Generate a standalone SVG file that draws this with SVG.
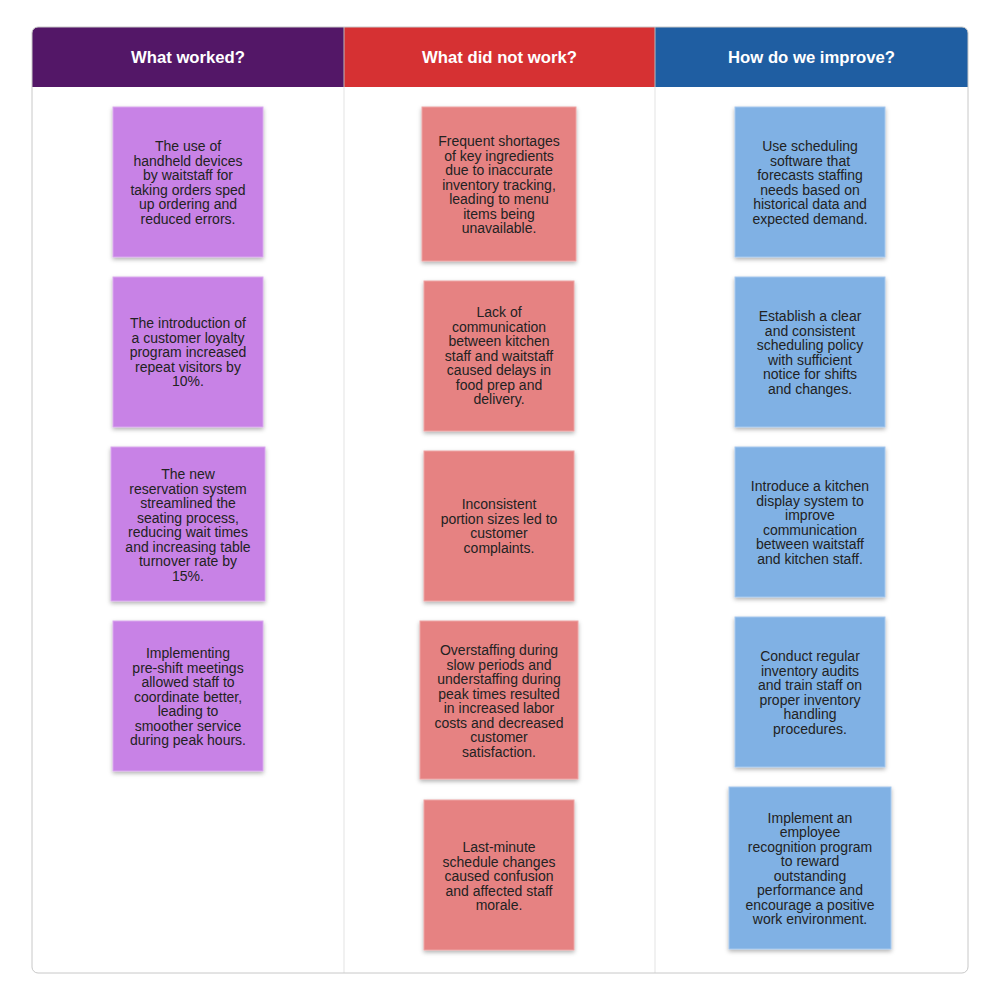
<svg xmlns="http://www.w3.org/2000/svg" width="1000" height="1000" viewBox="0 0 1000 1000">
<defs>
<filter id="sh" x="-20%" y="-20%" width="140%" height="140%">
<feDropShadow dx="0" dy="2" stdDeviation="2" flood-color="#000" flood-opacity="0.3"/>
</filter>
<clipPath id="frame"><rect x="32" y="27" width="936" height="946" rx="6"/></clipPath>
</defs>
<style>
.hd{font-family:"Liberation Sans",Arial,sans-serif;font-size:16.7px;font-weight:bold;fill:#fff;text-anchor:middle}
.t{font-family:"Liberation Sans",Arial,sans-serif;font-size:14px;fill:#222;text-anchor:middle}
.p{fill:#c882e6;stroke:#d9a8ee;stroke-width:1}
.r{fill:#e68282;stroke:#eea4a4;stroke-width:1}
.b{fill:#80b1e4;stroke:#a6c8ee;stroke-width:1}
.div{stroke:#ececec;stroke-width:1.5}
</style>
<rect x="0" y="0" width="1000" height="1000" fill="#fff"/>
<g id="frame-group" clip-path="url(#frame)">
<rect x="32" y="27" width="312" height="60" fill="#531767"/>
<rect x="344" y="27" width="311" height="60" fill="#d63133"/>
<rect x="655" y="27" width="313" height="60" fill="#1f5ea2"/>
<line class="div" x1="344" y1="87" x2="344" y2="973"/>
<line class="div" x1="655" y1="87" x2="655" y2="973"/>
<line x1="344" y1="27" x2="344" y2="87" stroke="#bbb" stroke-width="1"/>
<line x1="655" y1="27" x2="655" y2="87" stroke="#bbb" stroke-width="1"/>
</g>
<rect x="32" y="27" width="936" height="946" rx="6" fill="none" stroke="#c8c8c8" stroke-width="1"/>
<text class="hd" x="188" y="63">What worked?</text>
<text class="hd" x="499.5" y="63">What did not work?</text>
<text class="hd" x="811.5" y="63">How do we improve?</text>
<g id="connectors"></g>

<g id="w1">
<rect class="p" x="113" y="107" width="150" height="150" filter="url(#sh)"/>
<text class="t" x="188" y="151"><tspan x="188">The use of</tspan><tspan x="188" dy="14.5">handheld devices</tspan><tspan x="188" dy="14.5">by waitstaff for</tspan><tspan x="188" dy="14.5">taking orders sped</tspan><tspan x="188" dy="14.5">up ordering and</tspan><tspan x="188" dy="14.5">reduced errors.</tspan></text>
</g>
<g id="w2">
<rect class="p" x="113" y="277" width="150" height="150" filter="url(#sh)"/>
<text class="t" x="188" y="328"><tspan x="188">The introduction of</tspan><tspan x="188" dy="14.5">a customer loyalty</tspan><tspan x="188" dy="14.5">program increased</tspan><tspan x="188" dy="14.5">repeat visitors by</tspan><tspan x="188" dy="14.5">10%.</tspan></text>
</g>
<g id="w3">
<rect class="p" x="111" y="447" width="154" height="154" filter="url(#sh)"/>
<text class="t" x="188" y="479"><tspan x="188">The new</tspan><tspan x="188" dy="14.5">reservation system</tspan><tspan x="188" dy="14.5">streamlined the</tspan><tspan x="188" dy="14.5">seating process,</tspan><tspan x="188" dy="14.5">reducing wait times</tspan><tspan x="188" dy="14.5">and increasing table</tspan><tspan x="188" dy="14.5">turnover rate by</tspan><tspan x="188" dy="14.5">15%.</tspan></text>
</g>
<g id="w4">
<rect class="p" x="113" y="621" width="150" height="150" filter="url(#sh)"/>
<text class="t" x="188" y="658"><tspan x="188">Implementing</tspan><tspan x="188" dy="14.5">pre-shift meetings</tspan><tspan x="188" dy="14.5">allowed staff to</tspan><tspan x="188" dy="14.5">coordinate better,</tspan><tspan x="188" dy="14.5">leading to</tspan><tspan x="188" dy="14.5">smoother service</tspan><tspan x="188" dy="14.5">during peak hours.</tspan></text>
</g>

<g id="n1">
<rect class="r" x="422" y="107" width="154" height="154" filter="url(#sh)"/>
<text class="t" x="499" y="146"><tspan x="499">Frequent shortages</tspan><tspan x="499" dy="14.5">of key ingredients</tspan><tspan x="499" dy="14.5">due to inaccurate</tspan><tspan x="499" dy="14.5">inventory tracking,</tspan><tspan x="499" dy="14.5">leading to menu</tspan><tspan x="499" dy="14.5">items being</tspan><tspan x="499" dy="14.5">unavailable.</tspan></text>
</g>
<g id="n2">
<rect class="r" x="424" y="281" width="150" height="150" filter="url(#sh)"/>
<text class="t" x="499" y="317"><tspan x="499">Lack of</tspan><tspan x="499" dy="14.5">communication</tspan><tspan x="499" dy="14.5">between kitchen</tspan><tspan x="499" dy="14.5">staff and waitstaff</tspan><tspan x="499" dy="14.5">caused delays in</tspan><tspan x="499" dy="14.5">food prep and</tspan><tspan x="499" dy="14.5">delivery.</tspan></text>
</g>
<g id="n3">
<rect class="r" x="424" y="451" width="150" height="150" filter="url(#sh)"/>
<text class="t" x="499" y="509"><tspan x="499">Inconsistent</tspan><tspan x="499" dy="14.5">portion sizes led to</tspan><tspan x="499" dy="14.5">customer</tspan><tspan x="499" dy="14.5">complaints.</tspan></text>
</g>
<g id="n4">
<rect class="r" x="420" y="621" width="158" height="158" filter="url(#sh)"/>
<text class="t" x="499" y="655"><tspan x="499">Overstaffing during</tspan><tspan x="499" dy="14.5">slow periods and</tspan><tspan x="499" dy="14.5">understaffing during</tspan><tspan x="499" dy="14.5">peak times resulted</tspan><tspan x="499" dy="14.5">in increased labor</tspan><tspan x="499" dy="14.5">costs and decreased</tspan><tspan x="499" dy="14.5">customer</tspan><tspan x="499" dy="14.5">satisfaction.</tspan></text>
</g>
<g id="n5">
<rect class="r" x="424" y="800" width="150" height="150" filter="url(#sh)"/>
<text class="t" x="499" y="852"><tspan x="499">Last-minute</tspan><tspan x="499" dy="14.5">schedule changes</tspan><tspan x="499" dy="14.5">caused confusion</tspan><tspan x="499" dy="14.5">and affected staff</tspan><tspan x="499" dy="14.5">morale.</tspan></text>
</g>

<g id="i1">
<rect class="b" x="735" y="107" width="150" height="150" filter="url(#sh)"/>
<text class="t" x="810" y="151"><tspan x="810">Use scheduling</tspan><tspan x="810" dy="14.5">software that</tspan><tspan x="810" dy="14.5">forecasts staffing</tspan><tspan x="810" dy="14.5">needs based on</tspan><tspan x="810" dy="14.5">historical data and</tspan><tspan x="810" dy="14.5">expected demand.</tspan></text>
</g>
<g id="i2">
<rect class="b" x="735" y="277" width="150" height="150" filter="url(#sh)"/>
<text class="t" x="810" y="321"><tspan x="810">Establish a clear</tspan><tspan x="810" dy="14.5">and consistent</tspan><tspan x="810" dy="14.5">scheduling policy</tspan><tspan x="810" dy="14.5">with sufficient</tspan><tspan x="810" dy="14.5">notice for shifts</tspan><tspan x="810" dy="14.5">and changes.</tspan></text>
</g>
<g id="i3">
<rect class="b" x="735" y="447" width="150" height="150" filter="url(#sh)"/>
<text class="t" x="810" y="491"><tspan x="810">Introduce a kitchen</tspan><tspan x="810" dy="14.5">display system to</tspan><tspan x="810" dy="14.5">improve</tspan><tspan x="810" dy="14.5">communication</tspan><tspan x="810" dy="14.5">between waitstaff</tspan><tspan x="810" dy="14.5">and kitchen staff.</tspan></text>
</g>
<g id="i4">
<rect class="b" x="735" y="617" width="150" height="150" filter="url(#sh)"/>
<text class="t" x="810" y="661"><tspan x="810">Conduct regular</tspan><tspan x="810" dy="14.5">inventory audits</tspan><tspan x="810" dy="14.5">and train staff on</tspan><tspan x="810" dy="14.5">proper inventory</tspan><tspan x="810" dy="14.5">handling</tspan><tspan x="810" dy="14.5">procedures.</tspan></text>
</g>
<g id="i5">
<rect class="b" x="729" y="787" width="162" height="162" filter="url(#sh)"/>
<text class="t" x="810" y="822.5"><tspan x="810">Implement an</tspan><tspan x="810" dy="14.5">employee</tspan><tspan x="810" dy="14.5">recognition program</tspan><tspan x="810" dy="14.5">to reward</tspan><tspan x="810" dy="14.5">outstanding</tspan><tspan x="810" dy="14.5">performance and</tspan><tspan x="810" dy="14.5">encourage a positive</tspan><tspan x="810" dy="14.5">work environment.</tspan></text>
</g>
</svg>
